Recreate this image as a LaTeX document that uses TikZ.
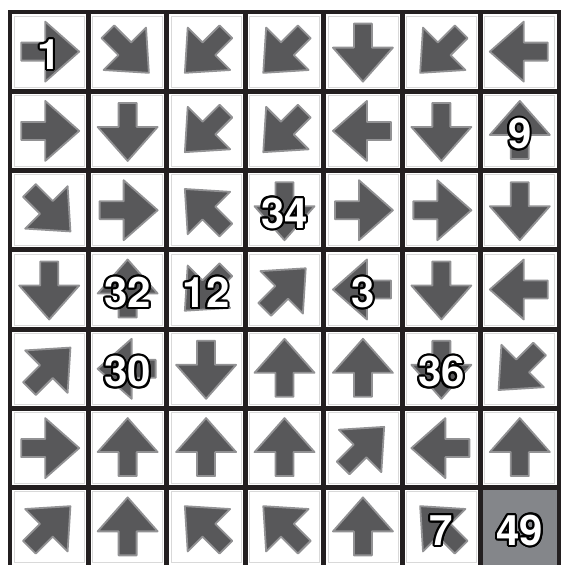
\documentclass[tikz,border=0pt]{standalone}
\usepackage{fontspec}
\newfontfamily\cluefont{TeX Gyre Heros}
\usepackage{contour}
\contourlength{1pt}
\definecolor{pointgray}{HTML}{58585A}
\definecolor{goalgray}{HTML}{84868A}
\definecolor{lineblack}{HTML}{231F20}

\begin{document}
\begin{tikzpicture}[
  x=0.5pt,y=-0.5pt,
  cell/.style={draw=black!15,line width=0.4pt,fill=white,minimum width=35pt,minimum height=35.5pt,inner sep=0pt},
  goal/.style={fill=goalgray,minimum width=37.5pt,minimum height=38pt,inner sep=0pt},
  gridline/.style={lineblack,line width=2.4pt,line cap=rect},
  pointer/.style={fill=pointgray,draw=pointgray!65,line width=0.9pt,line join=round},
  clue/.style={inner sep=0pt,text=white,font=\cluefont\bfseries\fontsize{21}{21}\selectfont}
]
  \def\dx{78.43}
  \def\dy{79.29}
  \useasboundingbox (0,0) rectangle (561,565);
  % cells and pointers, one row at a time (angles: 0 = right, 90 = up)
  \foreach \row/\dirs in {1/{0,315,225,225,270,225,180},
                          2/{0,270,225,225,180,270,90},
                          3/{315,0,135,270,0,0,270},
                          4/{270,90,225,45,180,270,180},
                          5/{45,180,270,90,90,270,225},
                          6/{0,90,90,90,45,180,90},
                          7/{45,90,135,135,90,135}}{
    \foreach \d [count=\col] in \dirs {
      \node[cell] (c\row\col) at ({10+(\col-0.5)*\dx},{12+(\row-0.5)*\dy}) {};
      \filldraw[pointer,shift={(c\row\col.center)},rotate=\d]
        (-28,-9)--(-4,-9)--(-4,-30)--(30,0)--(-4,30)--(-4,9)--(-28,9)--cycle;
    }
  }
  \node[goal] (c77) at ({10+6.5*\dx},{12+6.5*\dy}) {};
  % grid
  \foreach \i in {0,...,7}
    \draw[gridline] ({10+\i*\dx},12) -- ({10+\i*\dx},572);
  \foreach \i in {0,...,6}
    \draw[gridline] (10,{12+\i*\dy}) -- (559,{12+\i*\dy});
  % numbered cells
  \foreach \row/\col/\num in {1/1/1,2/7/9,3/4/34,4/2/32,4/3/12,4/5/3,5/2/30,5/6/36,7/6/7,7/7/49}
    \node[clue,yshift=-2pt] (n\row\col) at (c\row\col) {\contour{black}{\num}};
\end{tikzpicture}
\end{document}
